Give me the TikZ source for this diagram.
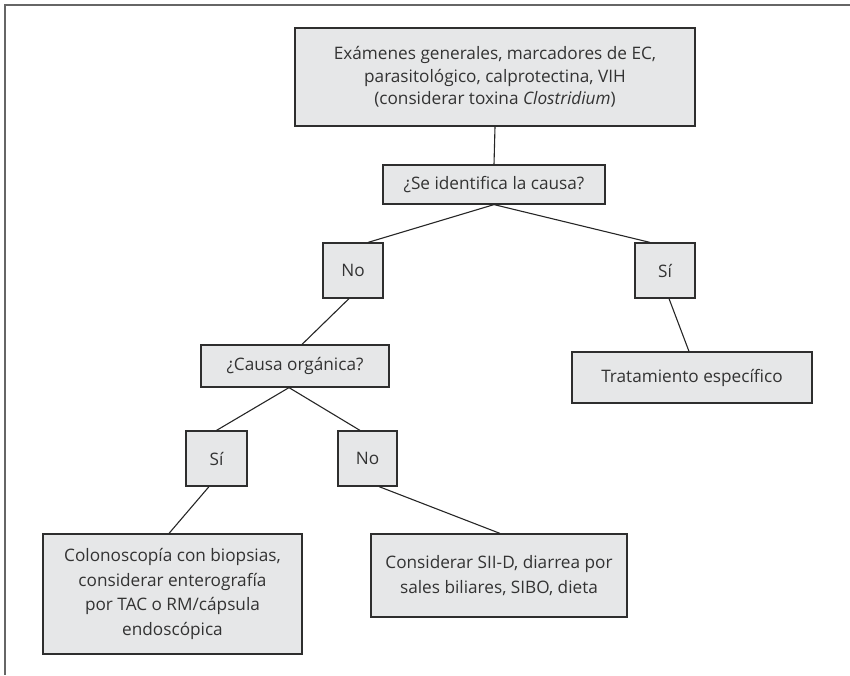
\documentclass[tikz,border=0pt]{standalone}
\usepackage{fontspec}
\setmainfont{Open Sans}
\begin{document}
\begin{tikzpicture}[x=1pt,y=-1pt,
  box/.style={draw=boxline,fill=boxfill,line width=1.2pt,inner sep=0pt,
    align=center,text=txt,font=\fontsize{17.2}{22.5}\selectfont},
  widebox/.style={box,font=\fontsize{17.2}{24.5}\selectfont},
  link/.style={draw=black!85,line width=1.1pt},
  frame/.style={draw=black!60,line width=2.2pt}]
\definecolor{boxfill}{HTML}{E6E7E8}
\definecolor{boxline}{HTML}{2E2E2E}
\definecolor{txt}{HTML}{333333}
\useasboundingbox (0,0) rectangle (850,675);
% outer frame (top and left rules)
\coordinate (fTL) at (5,5);
\coordinate (fTR) at (850,5);
\coordinate (fBL) at (5,675);
\draw[frame] (fTR) -- (fTL) -- (fBL);
% boxes
\node[box,minimum width=400pt,minimum height=98pt] (start) at (495,77)
  {Exámenes generales, marcadores de EC,\\parasitológico, calprotectina, VIH\\(considerar toxina \textit{Clostridium})};
\node[box,minimum width=222pt,minimum height=39pt] (q1) at (494,184.5) {¿Se identifica la causa?};
\node[box,minimum width=60pt,minimum height=55pt] (no1) at (353,270.5) {No};
\node[box,minimum width=60pt,minimum height=55pt] (si1) at (665,270.5) {Sí};
\node[box,minimum width=240pt,minimum height=51pt] (trat) at (692,377.5) {Tratamiento específico};
\node[box,minimum width=188pt,minimum height=42pt] (q2) at (295,366) {¿Causa orgánica?};
\node[box,minimum width=61pt,minimum height=55pt] (si2) at (216.5,458.5) {Sí};
\node[box,minimum width=59pt,minimum height=55pt] (no2) at (367.5,458.5) {No};
\node[widebox,minimum width=259pt,minimum height=120pt] (colon) at (172.5,594)
  {Colonoscopía con biopsias,\\considerar enterografía\\por TAC o RM/cápsula\\endoscópica};
\node[widebox,minimum width=256pt,minimum height=83pt] (cons) at (499,575.5)
  {Considerar SII-D, diarrea por\\sales biliares, SIBO, dieta};
% connectors
\draw[link] (start.south) -- (q1.north);
\draw[link] (q1.south) -- ([xshift=15pt]no1.north);
\draw[link] (q1.south) -- ([xshift=-15pt]si1.north);
\draw[link] ([xshift=4pt]si1.south) -- ([xshift=-3pt]trat.north);
\draw[link] ([xshift=-4pt]no1.south) -- ([xshift=7pt]q2.north);
\draw[link] ([xshift=-6pt]q2.south) -- (si2.north);
\draw[link] ([xshift=-6pt]q2.south) -- ([xshift=-7.5pt]no2.north);
\draw[link] ([xshift=-7.5pt]si2.south) -- ([xshift=-3.5pt]colon.north);
\draw[link] ([xshift=11.5pt]no2.south) -- ([xshift=1pt]cons.north);
\end{tikzpicture}
\end{document}
